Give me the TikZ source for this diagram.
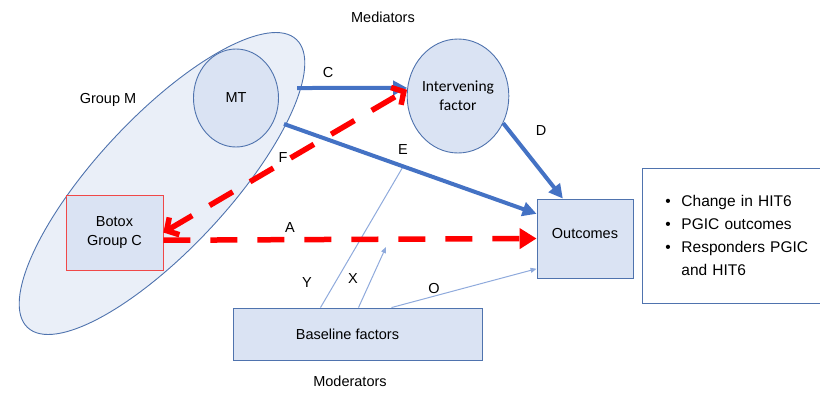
\documentclass[tikz,border=0pt]{standalone}
\usepackage{fontspec}
\setmainfont{Liberation Sans}
\newfontfamily\calfont{Carlito}
\usetikzlibrary{arrows.meta,positioning,shapes.geometric}
\definecolor{palefill}{HTML}{EAEFF8}
\definecolor{boxfill}{HTML}{DAE3F3}
\definecolor{edgeblue}{HTML}{4F73AE}
\definecolor{arrblue}{HTML}{4472C4}
\definecolor{thinblue}{HTML}{8FAADC}
\definecolor{botred}{HTML}{F04848}
\newcommand{\itm}{\hspace*{10pt}\makebox[16pt][l]{\textbullet}}

\begin{document}
\begin{tikzpicture}[x=1pt, y=-1pt,
  font=\fontsize{14.5}{19}\selectfont,
  grp/.style={draw=edgeblue, fill=palefill, ellipse, line width=0.9pt, inner sep=0pt},
  circ/.style={draw=edgeblue, fill=boxfill, ellipse, line width=0.9pt, inner sep=0pt, align=center},
  bx/.style={draw=edgeblue, fill=boxfill, line width=0.9pt, align=center},
  lbl/.style={inner sep=1pt},
  thk/.style={arrblue, line width=4pt, -{Triangle[length=14pt,width=14pt]}},
  thn/.style={thinblue, line width=1pt},
  rd/.style={red, line width=5.5pt, dash pattern=on 27pt off 20pt}
]
\useasboundingbox (0,0) rectangle (820,392);

% groups and factors
\node[grp, minimum width=394pt, minimum height=132pt, rotate=47] (grpm) at (162,183.5) {};
\node[circ, minimum width=85pt, minimum height=98pt] (mt) at (236,98) {MT};
\node[circ, minimum width=96pt, minimum height=114pt, font=\calfont\fontsize{15.5}{19}\selectfont] (interv) at (458,96) {Intervening\\factor};
\node[bx, minimum width=96pt, minimum height=79pt] (outc) at (585,238.5) {Outcomes\\[-9pt]\mbox{}};
\node[bx, minimum width=249pt, minimum height=52pt] (base) at (357.5,334) {Baseline factors\hspace*{20pt}};
\node[draw=edgeblue, line width=0.9pt, anchor=north west, minimum height=135pt,
  text width=156pt, inner xsep=13pt, align=left, font=\fontsize{15.5}{23}\selectfont] (list) at (642,168)
  {\itm Change in HIT6\\ \itm PGIC outcomes\\ \itm Responders PGIC\\ \hspace*{26pt}and HIT6};

% texts
\node[lbl] (medtxt) at (383,17) {Mediators};
\node[lbl] (modtxt) at (350,381) {Moderators};
\node[lbl] (grptxt) at (108,100) {Group M};

% free ends
\coordinate (cs) at (297,88);
\coordinate (es) at (284,124);
\coordinate (ye) at (404,165);
\coordinate (xe) at (386,247);

% moderator lines
\draw[thn] ([xshift=-37pt]base.north) -- (ye);
\draw[thn, -{Triangle[length=6pt,width=5pt]}] ([xshift=1pt]base.north) -- (xe);
\draw[thn, -{Triangle[length=6pt,width=5pt]}] ([xshift=34pt]base.north) -- (outc.212);

% paths
\draw[thk] (cs) -- (interv.171);
\draw[thk] (es) -- (outc.153);
\draw[thk] (interv.-31) -- (outc.119);

\node[bx, draw=botred, line width=0.8pt, minimum width=97pt, minimum height=75pt] (botox) at (114.5,232.5) {Botox\\Group C};

\draw[rd, {Straight Barb[length=9pt,width=20pt]}-{Straight Barb[length=9pt,width=20pt]}] (botox.east) -- (interv.173);
\draw[rd, -{Triangle[length=17pt,width=20pt]}] (botox.-9) -- (outc.west);

% path labels
\node[lbl] (lc) at (328,73) {C};
\node[lbl] (ld) at (541,131) {D};
\node[lbl] (le) at (403,150) {E};
\node[lbl] (lf) at (283,158) {F};
\node[lbl] (la) at (290,228) {A};
\node[lbl] (ly) at (307,283) {Y};
\node[lbl] (lx) at (353,279) {X};
\node[lbl] (lo) at (434,289) {O};
\end{tikzpicture}
\end{document}
